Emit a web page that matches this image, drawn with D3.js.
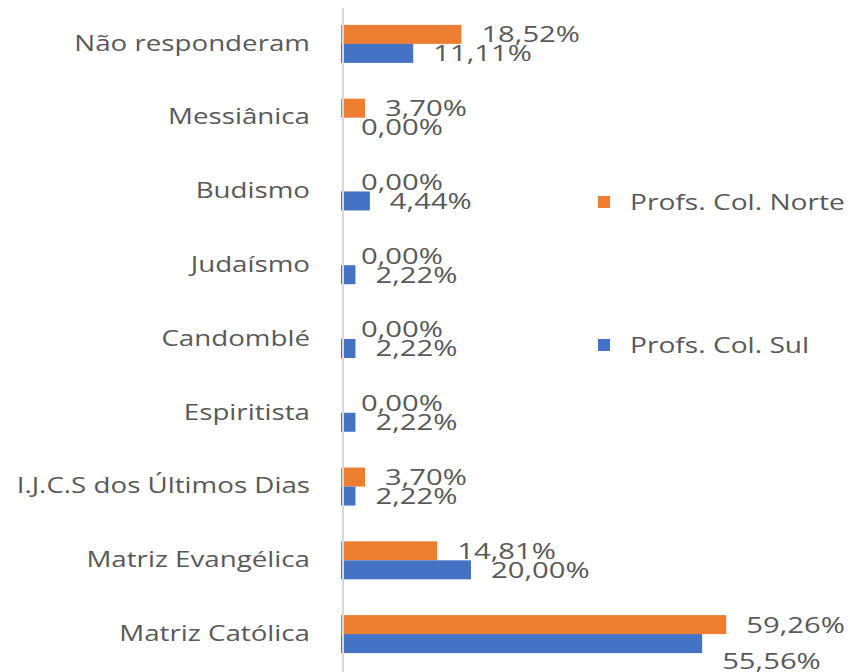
<!DOCTYPE html>
<html>
<head>
<meta charset="utf-8">
<script src="https://cdn.jsdelivr.net/npm/d3@7"></script>
<style>
  body { margin: 0; background: #fff; }
  text { font-family: "Open Sans", sans-serif; fill: #595959; }
</style>
</head>
<body>
<script>
var w = 849, h = 672;

// categories from top to bottom
var categories = ["Não responderam", "Messiânica", "Budismo", "Judaísmo", "Candomblé",
                  "Espiritista", "I.J.C.S dos Últimos Dias", "Matriz Evangélica", "Matriz Católica"];
var seriesNames = ["Profs. Col. Norte", "Profs. Col. Sul"];
var norte = [18.52, 3.70, 0.00, 0.00, 0.00, 0.00, 3.70, 14.81, 59.26];
var sul   = [11.11, 0.00, 4.44, 2.22, 2.22, 2.22, 2.22, 20.00, 55.56];
var colors = ["#ED7D31", "#4472C4"];

// the original picture is stretched sideways, so the texts are too
var stretchCat = 1.32, stretchVal = 1.33, stretchLeg = 1.28;

var svg = d3.select("body")
	.append("svg")
	.attr("width", w)
	.attr("height", h);

var xScale = d3.scaleLinear()
	.domain([0, 60])
	.range([341, 731]);

var yScale = d3.scaleBand()
	.domain(categories)
	.range([7, 671])
	.paddingInner(0.485)
	.paddingOuter(0.2425);

var sub = d3.scaleBand()
	.domain(seriesNames)
	.range([0, yScale.bandwidth()]);

var fmt = v => v.toFixed(2).replace(".", ",") + "%";

var rows = [];
categories.forEach((c, i) => {
	rows.push({ cat: c, s: seriesNames[0], v: norte[i], k: 0 });
	rows.push({ cat: c, s: seriesNames[1], v: sul[i], k: 1 });
});

svg.selectAll("rect.bar")
	.data(rows)
	.enter()
	.append("rect")
	.attr("class", "bar")
	.attr("x", xScale(0))
	.attr("y", d => yScale(d.cat) + sub(d.s))
	.attr("width", d => xScale(d.v) - xScale(0))
	.attr("height", sub.bandwidth())
	.attr("fill", d => colors[d.k]);

// vertical axis line
svg.append("line")
	.attr("x1", 343).attr("x2", 343)
	.attr("y1", 8).attr("y2", h)
	.attr("stroke", "#D9D9D9")
	.attr("stroke-width", 2);

// category labels
var yAxis = d3.axisLeft(yScale).tickSize(0).tickPadding(0);
var ax = svg.append("g")
	.attr("transform", "translate(343,0)")
	.call(yAxis);
ax.select(".domain").remove();
ax.selectAll("text")
	.attr("x", -33 / stretchCat)
	.attr("transform", `scale(${stretchCat},1)`)
	.attr("font-size", "21px")
	.style("font-family", "'Open Sans', sans-serif")
	.attr("fill", "#595959");

// value labels (last blue one pushed down a bit, like in the original)
svg.selectAll("text.val")
	.data(rows)
	.enter()
	.append("text")
	.attr("class", "val")
	.attr("transform", d => {
		var x = xScale(d.v) + 20;
		var y = yScale(d.cat) + sub(d.s) + sub.bandwidth() / 2 + ((d.k == 1 && d.v > 50) ? 17 : 0);
		return `translate(${x},${y}) scale(${stretchVal},1)`;
	})
	.attr("dy", "0.36em")
	.attr("font-size", "22px")
	.text(d => fmt(d.v));

// legend
var legend = svg.selectAll("g.legend")
	.data(seriesNames)
	.enter()
	.append("g")
	.attr("class", "legend")
	.attr("transform", (d, i) => `translate(598, ${202 + i * 143})`);

legend.append("rect")
	.attr("x", 0).attr("y", -6)
	.attr("width", 12).attr("height", 12)
	.attr("fill", (d, i) => colors[i]);

legend.append("text")
	.attr("transform", `translate(32,0) scale(${stretchLeg},1)`)
	.attr("dy", "0.36em")
	.attr("font-size", "22px")
	.text(d => d);
</script>
</body>
</html>
